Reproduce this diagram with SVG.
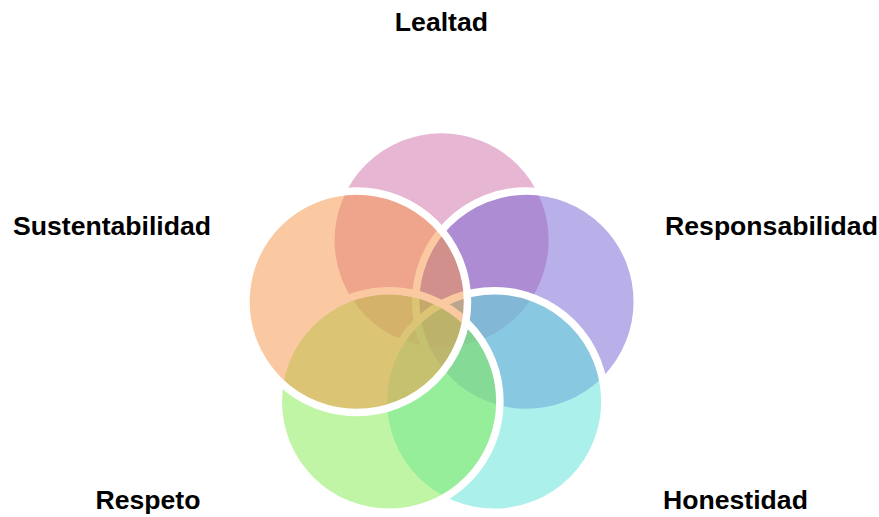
<svg xmlns="http://www.w3.org/2000/svg" width="879" height="517" viewBox="0 0 879 517">
<style>
.c{stroke:#ffffff;stroke-width:7.5;fill-opacity:0.5}
.t{font-family:"Liberation Sans",Arial,sans-serif;font-weight:bold;font-size:26.6px;fill:#000000;text-anchor:middle}
</style>
<rect width="879" height="517" fill="#ffffff"/>
<g id="lealtad"><circle class="c" cx="441.6" cy="240.3" r="110.8" fill="#CD6DA5"/></g>
<g id="responsabilidad"><circle class="c" cx="526.5" cy="301.7" r="110.8" fill="#7361D5"/></g>
<g id="honestidad"><circle class="c" cx="494.1" cy="401.5" r="110.8" fill="#57E1D7"/></g>
<g id="respeto"><circle class="c" cx="389.1" cy="401.5" r="110.8" fill="#81EB4B"/></g>
<g id="sustentabilidad"><circle class="c" cx="356.7" cy="301.7" r="110.8" fill="#F59343"/></g>
<g id="connectors"></g>
<g id="labels">
<text class="t" x="441.4" y="31">Lealtad</text>
<text class="t" x="112" y="235">Sustentabilidad</text>
<text class="t" x="771.5" y="235">Responsabilidad</text>
<text class="t" x="148" y="509">Respeto</text>
<text class="t" x="735.5" y="509">Honestidad</text>
</g>
</svg>
